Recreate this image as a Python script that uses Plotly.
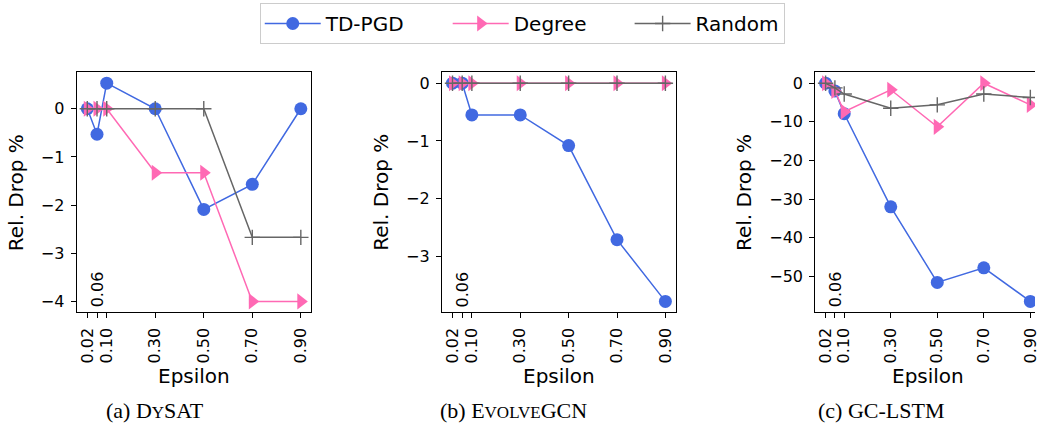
import plotly.graph_objects as go

# ---------------- data ----------------
epsilon = [0.02, 0.06, 0.10, 0.30, 0.50, 0.70, 0.90]
tick_text = ["0.02", "", "0.10", "0.30", "0.50", "0.70", "0.90"]

dysat_tdpgd = [0.0, -0.53, 0.53, 0.0, -2.09, -1.57, 0.0]
dysat_degree = [0.0, 0.0, 0.0, -1.33, -1.33, -4.0, -4.0]
dysat_random = [0.0, 0.0, 0.0, 0.0, 0.0, -2.67, -2.67]

evolve_tdpgd = [0.0, 0.0, -0.55, -0.55, -1.08, -2.71, -3.78]
evolve_degree = [0.0, 0.0, 0.0, 0.0, 0.0, 0.0, 0.0]
evolve_random = [0.0, 0.0, 0.0, 0.0, 0.0, 0.0, 0.0]

gclstm_tdpgd = [0.0, -2.0, -7.9, -32.0, -51.6, -47.8, -56.5]
gclstm_degree = [0.0, -2.0, -7.4, -1.7, -11.3, 0.0, -5.6]
gclstm_random = [0.0, -1.2, -2.8, -6.5, -5.6, -2.8, -3.7]

series_names = ["TD-PGD", "Degree", "Random"]
# trailing no-break spaces only widen the legend entry spacing
legend_pad = ["\u00a0" * 6, "\u00a0" * 6, ""]
captions = ["(a) D<span style='font-size:17px'>Y</span>SAT",
            "(b) E<span style='font-size:17px'>VOLVE</span>GCN",
            "(c) GC-LSTM"]

panels = [
    (dysat_tdpgd, dysat_degree, dysat_random),
    (evolve_tdpgd, evolve_degree, evolve_random),
    (gclstm_tdpgd, gclstm_degree, gclstm_random),
]

# ---------------- style ----------------
W, H = 1040, 425
FONT = "DejaVu Sans"
colors = ["#4169E1", "#FF69B4", "#666666"]
BLUE, PINK, GRAY = colors

# pixel layout of each panel (left, right-of-full-axes)
panel_px = [(77, 313), (444, 679.3), (819.3, 1045.6)]
top_px, bot_px = 72.3, 312.3
y_dom = [(H - bot_px) / H, (H - top_px) / H]
dticks = [1, 1, 10]
caption_left = [105, 440, 820]

fig = go.Figure()

for i, (td, dg, rd) in enumerate(panels):
    sfx = "" if i == 0 else str(i + 1)
    xa, ya = "x" + sfx, "y" + sfx
    show = i == 0
    fig.add_trace(go.Scatter(
        x=epsilon, y=td, name=series_names[0] + legend_pad[0], mode="lines+markers",
        line=dict(color=BLUE, width=1.5),
        marker=dict(symbol="circle", size=13, color=BLUE),
        legendgroup="a", showlegend=show, xaxis=xa, yaxis=ya))
    fig.add_trace(go.Scatter(
        x=epsilon, y=dg, name=series_names[1] + legend_pad[1], mode="lines+markers",
        line=dict(color=PINK, width=1.5),
        marker=dict(symbol="triangle-right", size=14, color=PINK),
        legendgroup="b", showlegend=show, xaxis=xa, yaxis=ya))
    fig.add_trace(go.Scatter(
        x=epsilon, y=rd, name=series_names[2] + legend_pad[2], mode="lines+markers",
        line=dict(color=GRAY, width=1.5),
        marker=dict(symbol="cross-thin", size=11, color=GRAY,
                    line=dict(width=1.4, color=GRAY)),
        legendgroup="c", showlegend=show, xaxis=xa, yaxis=ya))

    # ranges (5% padding like autoscale)
    allv = td + dg + rd
    vmin, vmax = min(allv), max(allv)
    pad = 0.05 * (vmax - vmin)
    yr = [vmin - pad, vmax + pad]
    xpad = 0.05 * (max(epsilon) - min(epsilon))
    xr = [min(epsilon) - xpad, max(epsilon) + xpad]
    l_px, r_px = panel_px[i]
    if r_px > W:
        # right part of the last panel is cut off by the page edge
        scale = (xr[1] - xr[0]) / (r_px - l_px)
        xr[1] = xr[0] + (W - l_px) * scale
        r_px = W
    x_dom = [l_px / W, r_px / W]

    fig.layout["xaxis" + sfx] = dict(
        domain=x_dom, anchor=ya, range=xr,
        tickmode="array", tickvals=epsilon, ticktext=tick_text,
        tickangle=-90, ticks="outside", ticklen=5, tickwidth=1.2,
        tickcolor="black", ticklabelstandoff=3, ticklabeloverflow="allow",
        showline=True, linecolor="black", linewidth=1.2, mirror=True,
        showgrid=False, zeroline=False,
        tickfont=dict(family=FONT, size=16, color="black"))
    fig.layout["yaxis" + sfx] = dict(
        domain=y_dom, anchor=xa, range=yr, dtick=dticks[i], tick0=0,
        ticks="outside", ticklen=5, tickwidth=1.2, tickcolor="black",
        ticklabelstandoff=3,
        showline=True, linecolor="black", linewidth=1.2,
        mirror=(i != 2),
        showgrid=False, zeroline=False,
        tickfont=dict(family=FONT, size=16, color="black"))

    full_l, full_r = panel_px[i]
    # 0.06 label placed inside the axes
    fig.add_annotation(
        x=epsilon[1], xref=xa, y=0, yref=ya + " domain",
        text="0.06", textangle=-90, showarrow=False,
        xanchor="center", yanchor="bottom", yshift=3,
        font=dict(family=FONT, size=16, color="black"))
    # axis titles
    fig.add_annotation(
        x=(full_l + full_r) / 2 / W, xref="paper", y=1 - 376 / H, yref="paper",
        text="Epsilon", showarrow=False, xanchor="center", yanchor="middle",
        font=dict(family=FONT, size=20, color="black"))
    ylab_x = [16, 383.3, 748.3][i]
    fig.add_annotation(
        x=ylab_x / W, xref="paper", y=1 - (top_px + bot_px) / 2 / H, yref="paper",
        text="Rel. Drop %", textangle=-90, showarrow=False,
        xanchor="center", yanchor="middle",
        font=dict(family=FONT, size=20, color="black"))
    # caption
    fig.add_annotation(
        x=caption_left[i] / W, xref="paper", y=1 - 410 / H, yref="paper",
        text=captions[i], showarrow=False, xanchor="left", yanchor="middle",
        font=dict(family="Liberation Serif", size=22, color="black"))

fig.update_layout(
    width=W, height=H,
    margin=dict(l=0, r=0, t=0, b=0),
    paper_bgcolor="white", plot_bgcolor="white",
    showlegend=True,
    legend=dict(
        orientation="h", x=261 / W, xanchor="left", y=1 - 3 / H, yanchor="top",
        bordercolor="#cccccc", borderwidth=1, bgcolor="white",
        font=dict(family=FONT, size=20, color="black"),
        itemwidth=56, tracegroupgap=0),
)

fig.write_html("out.html",
               config={"displayModeBar": False},
               post_script="document.body.style.margin='0';"
                           "document.body.style.overflow='hidden';")
